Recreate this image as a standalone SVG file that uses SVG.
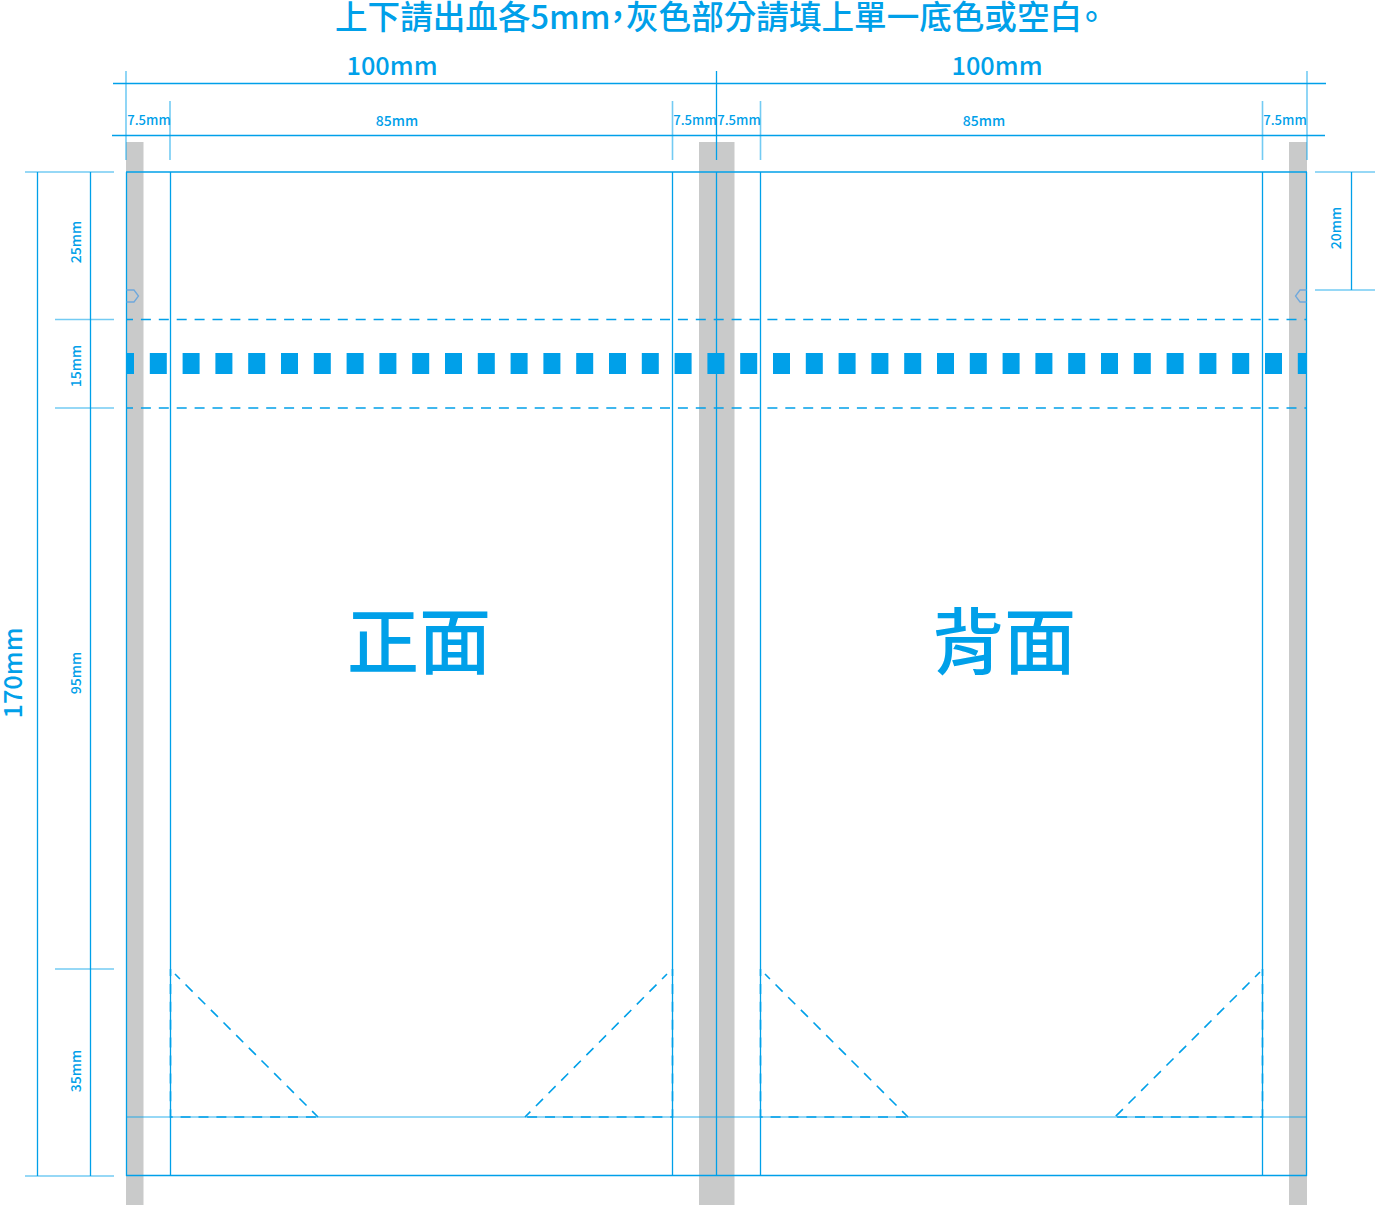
<svg xmlns="http://www.w3.org/2000/svg" width="1375" height="1206" viewBox="0 0 1375 1206">
<style>
text{font-family:"Noto Sans CJK TC","Noto Sans",sans-serif;fill:#00a0e9;font-weight:500}
.m{font-size:13.1px;text-anchor:middle}
.n{font-size:14px;text-anchor:middle}
.b{font-size:25.300px;text-anchor:middle}
.big{font-size:72px;text-anchor:middle}
.g{fill:#c9caca}
line,path{fill:none;stroke:#00a0e9;stroke-width:1.3}
.l{stroke-opacity:.55;stroke-width:1.6}
.d{stroke-width:1.6;stroke-dasharray:10 7.9;stroke-dashoffset:3}
.s{stroke-width:21;stroke-dasharray:17 15.8;stroke-dashoffset:9}
.h{stroke:#6fa8dc;stroke-width:1.3}
</style>
<rect id="bleed-left" class="g" x="126" y="142" width="17.5" height="1063"/>
<rect id="bleed-middle" class="g" x="699" y="142" width="35.5" height="1063"/>
<rect id="bleed-right" class="g" x="1289" y="142" width="18" height="1063"/>
<g id="connectors">
<line x1="113" y1="83.500" x2="1326" y2="83.500"/>
<line x1="112" y1="135.500" x2="1325" y2="135.500"/>
<line class="l" x1="126" y1="71" x2="126" y2="160"/>
<line class="l" x1="170" y1="101" x2="170" y2="160"/>
<line class="l" x1="672.500" y1="101" x2="672.500" y2="160"/>
<line x1="716.500" y1="71" x2="716.500" y2="160"/>
<line class="l" x1="760.500" y1="101" x2="760.500" y2="160"/>
<line class="l" x1="1262.500" y1="101" x2="1262.500" y2="160"/>
<line class="l" x1="1307" y1="71" x2="1307" y2="160"/>
<line class="l" x1="25" y1="172" x2="114" y2="172"/>
<line class="l" x1="1315" y1="172" x2="1375" y2="172"/>
<line class="l" x1="1315" y1="290" x2="1375" y2="290"/>
<line x1="1351.500" y1="172" x2="1351.500" y2="290"/>
<line class="l" x1="55" y1="319.500" x2="114" y2="319.500"/>
<line class="l" x1="55" y1="408" x2="114" y2="408"/>
<line class="l" x1="55" y1="969" x2="114" y2="969"/>
<line class="l" x1="25" y1="1176" x2="114" y2="1176"/>
<line x1="37.500" y1="172" x2="37.500" y2="1176"/>
<line x1="90.500" y1="172" x2="90.500" y2="1176"/>
<line class="d" x1="126" y1="319.500" x2="1307" y2="319.500"/>
<line class="d" x1="126" y1="408" x2="1307" y2="408"/>
<line class="s" x1="126" y1="363.500" x2="1307" y2="363.500"/>
<path class="d" d="M170.500 969V1117H318"/>
<path class="d" d="M175 974L318 1117"/>
<path class="d" d="M672.500 969V1117H525"/>
<path class="d" d="M667 974L525 1117"/>
<path class="d" d="M760.500 969V1117H908"/>
<path class="d" d="M765 974L908 1117"/>
<path class="d" d="M1262.500 969V1117H1115"/>
<path class="d" d="M1260 972L1115 1117"/>
<line class="l" x1="126" y1="1117" x2="1307" y2="1117"/>
<line x1="126" y1="172" x2="1307" y2="172"/>
<line x1="126" y1="1175.500" x2="1307" y2="1175.500"/>
<line x1="126.500" y1="172" x2="126.500" y2="1176"/>
<line x1="170.500" y1="172" x2="170.500" y2="1176"/>
<line x1="672.500" y1="172" x2="672.500" y2="1176"/>
<line x1="716.500" y1="172" x2="716.500" y2="1176"/>
<line x1="760.500" y1="172" x2="760.500" y2="1176"/>
<line x1="1262.500" y1="172" x2="1262.500" y2="1176"/>
<line x1="1306.500" y1="172" x2="1306.500" y2="1176"/>
<path class="h" d="M126.500 290H134L138.500 296L134 302H126.500"/>
<path class="h" d="M1306.500 290H1300L1295.500 296L1300 302H1306.500"/>
</g>
<g id="title"><text y="29" font-size="32.600"><tspan x="335">上下請出血各5mm</tspan><tspan x="601.500">，</tspan><tspan x="626">灰色部分請填上單一底色或空白</tspan><tspan x="1075">。</tspan></text></g>
<g id="width-labels">
<text class="b" x="392" y="75">100mm</text>
<text class="b" x="997" y="75">100mm</text>
<text class="m" x="149" y="125">7.5mm</text>
<text class="n" x="397" y="126">85mm</text>
<text class="m" x="695" y="125">7.5mm</text>
<text class="m" x="739" y="125">7.5mm</text>
<text class="n" x="984" y="126">85mm</text>
<text class="m" x="1285" y="125">7.5mm</text>
</g>
<g id="height-labels">
<text class="n" transform="translate(80.500 242) rotate(-90)">25mm</text>
<text class="n" transform="translate(80.500 366) rotate(-90)">15mm</text>
<text class="n" transform="translate(80.500 673) rotate(-90)">95mm</text>
<text class="n" transform="translate(80.500 1071) rotate(-90)">35mm</text>
<text class="n" transform="translate(1341 228) rotate(-90)">20mm</text>
<text class="b" transform="translate(22 673) rotate(-90)">170mm</text>
</g>
<g id="front"><text class="big" x="419" y="668">正面</text></g>
<g id="back"><text class="big" x="1004" y="668">背面</text></g>
</svg>
